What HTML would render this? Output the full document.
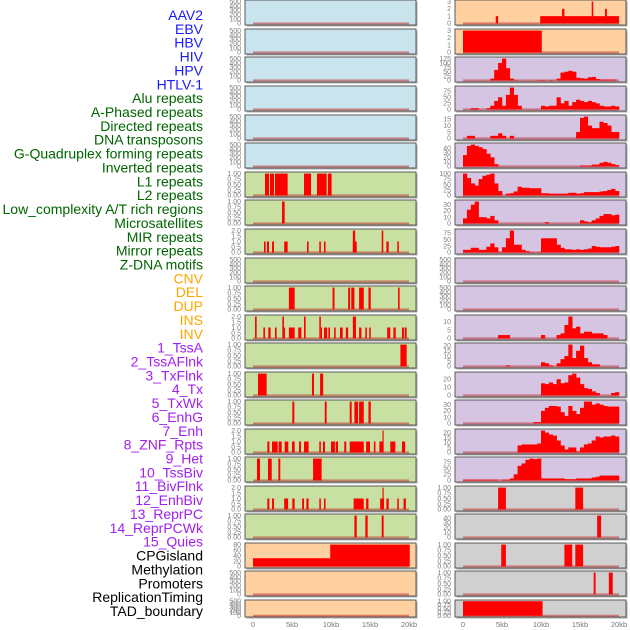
<!DOCTYPE html>
<html><head><meta charset="utf-8"><style>
html,body{margin:0;padding:0;background:#fff;width:630px;height:630px;overflow:hidden}
svg{display:block;font-family:"Liberation Sans",sans-serif}
</style></head><body>
<svg id="chart" width="630" height="630" viewBox="0 0 630 630" xmlns="http://www.w3.org/2000/svg"></svg>
<script>
// ---------- data ----------
const trackLabels = ["AAV2","EBV","HBV","HIV","HPV","HTLV-1","Alu repeats","A-Phased repeats","Directed repeats","DNA transposons","G-Quadruplex forming repeats","Inverted repeats","L1 repeats","L2 repeats","Low_complexity A/T rich regions","Microsatellites","MIR repeats","Mirror repeats","Z-DNA motifs","CNV","DEL","DUP","INS","INV","1_TssA","2_TssAFlnk","3_TxFlnk","4_Tx","5_TxWk","6_EnhG","7_Enh","8_ZNF_Rpts","9_Het","10_TssBiv","11_BivFlnk","12_EnhBiv","13_ReprPC","14_ReprPCWk","15_Quies","CPGisland","Methylation","Promoters","ReplicationTiming","TAD_boundary"];
const labelGroups = ["virus","virus","virus","virus","virus","virus","repeat","repeat","repeat","repeat","repeat","repeat","repeat","repeat","repeat","repeat","repeat","repeat","repeat","sv","sv","sv","sv","sv","chrom","chrom","chrom","chrom","chrom","chrom","chrom","chrom","chrom","chrom","chrom","chrom","chrom","chrom","chrom","other","other","other","other","other"];
const xTickValues = [0,5,10,15,20];
const xTickLabels = ["0","5kb","10kb","15kb","20kb"];

// left panel intervals [startKb, endKb, value]
const leftR7 = [[1.54,2.05,1],[2.18,2.69,1],[2.82,4.44,1],[6.54,7.44,1],[8.2,9.44,1],[9.6,10.08,1]];
const leftR8 = [[3.72,4.06,1]];
const leftR9 = [[1.41,1.62,1],[1.79,2.05,1],[2.44,2.69,1],[4.0,4.44,1],[6.92,7.13,1],[8.5,8.7,1],[9.1,9.3,1],[12.8,13.3,1],[12.8,13.1,2],[16.5,16.7,2],[17.1,17.4,1],[18.5,18.7,1]];
const leftR11 = [[4.6,5.34,1],[10.2,10.45,1],[12.2,12.45,1],[12.6,13.0,1],[13.6,14.2,1],[14.8,15.1,1],[18.6,18.8,1]];
const leftR12 = [[0.26,0.47,2],[1.33,1.54,1],[1.96,2.26,1],[2.82,3.03,1],[3.76,3.97,2],[3.97,4.1,1],[4.6,5.34,1],[5.8,6.2,1],[6.54,6.75,2],[8.5,8.7,2],[8.7,8.85,1],[9.1,9.5,1],[9.66,9.87,1],[10.4,10.6,1],[11.15,11.5,1],[11.9,12.2,1],[12.8,13.2,2],[13.6,13.9,1],[14.4,14.6,1],[14.9,15.1,1],[17.2,17.6,1],[18.0,18.3,1],[19.1,19.35,1],[19.45,19.7,1]];
const leftR13 = [[18.9,19.7,1]];
const leftR14 = [[0.64,1.75,1],[7.56,7.82,1],[8.6,9.0,1]];
const leftR15 = [[5.04,5.3,1],[9.2,9.44,1],[12.4,12.65,1],[13.0,13.46,1],[13.6,14.2,1],[14.8,15.1,1]];
const leftR16 = [[1.84,2.1,1],[2.44,3.16,1],[3.29,3.68,1],[4.06,4.53,1],[5.0,5.34,1],[5.9,6.15,1],[6.54,7.13,1],[8.5,8.7,1],[8.97,9.23,1],[10.0,10.5,1],[10.6,10.9,1],[11.7,11.96,1],[12.4,14.2,1],[14.5,15.0,1],[15.5,15.7,1],[16.2,16.7,1],[16.6,16.75,2],[17.6,18.25,1],[19.1,19.5,1]];
const leftR17 = [[0.51,0.9,1],[1.92,2.4,1],[3.25,3.5,1],[7.7,8.8,1]];
const leftR18 = [[1.84,2.1,1],[2.44,2.7,1],[4.0,4.5,1],[5.04,5.34,1],[6.3,6.54,1],[6.84,7.13,1],[8.5,8.7,1],[9.1,9.3,1],[12.9,14.2,1],[14.5,14.8,1],[16.3,16.8,1],[16.6,16.75,2],[17.1,17.4,1],[18.5,18.7,1],[19.3,19.6,1]];
const leftR19 = [[13.0,13.3,1],[14.4,14.7,1],[16.5,16.75,1]];
const leftR20 = [[0,10,30],[9.9,20.1,80]];

// right panel intervals
const rightR1 = [[4.2,4.5,1],[9.9,20,1],[12.7,13.0,2],[16.5,16.7,3],[18.2,18.45,2]];
const rightR2 = [[0,10.1,3]];
const rightR18 = [[4.5,5.5,1],[14.4,15.4,1]];
const rightR19 = [[17.2,17.7,45]];
const rightR20 = [[4.9,5.5,1],[13.0,14.0,1],[14.4,15.4,1]];
const rightR21 = [[16.75,17.0,1],[18.7,19.2,1]];
const rightR22 = [[0,10.2,1]];

// right panel histogram values, 0.5kb bins from 0 to 20kb
const binsR3 = [0,0,0,0,0,0,0,10,60,100,125,70,10,2,0,0,0,0,0,2,2,0,2,0,10,45,50,55,50,15,12,10,18,20,8,5,5,5,5,0];
const binsR4 = [0,0,5,5,0,0,5,15,35,50,15,60,90,60,15,0,0,0,0,0,15,12,15,15,50,25,35,15,30,40,35,30,35,30,25,15,12,12,15,12];
const binsR5 = [0,2,2,0,0,0,0,2,2,4,2,0,2,0,0,0,0,0,0,0,0,0,0,0,0,0,0,0,0,5,16,17,10,8,8,13,12,10,5,5];
const binsR6 = [25,45,48,45,42,38,28,20,5,0,0,0,0,0,0,0,0,0,0,0,0,0,0,0,0,0,0,0,0,0,2,2,2,4,4,8,10,8,5,3];
const binsR7 = [100,80,55,45,75,90,95,100,55,20,0,8,10,18,40,35,35,33,33,33,10,10,8,8,8,8,8,12,12,8,10,15,15,15,15,18,20,25,30,20];
const binsR8 = [8,22,30,35,10,10,8,12,5,0,0,0,0,0,0,0,0,0,0,0,0,2,0,0,0,0,0,0,0,0,5,3,2,5,8,12,15,15,13,14];
const binsR9 = [10,10,18,18,10,10,22,35,20,2,20,55,85,30,30,10,5,2,0,2,55,55,55,55,30,18,12,12,10,12,10,12,15,25,22,20,20,20,22,25];
const binsR12 = [0,0,0,0,0,0,0,0,0,2,2,2,0,0,0,0,0,0,0,0,2,0,0,0,2,3,8,13,6,7,3,4,4,3,3,3,2,0,0,0];
const binsR13 = [0,0,0,0,0,0,0,0,0,0,0,1,0,0,0,0,0,0,0,0,4,3,1,0,3,7,10,21,8,15,20,8,4,2,2,0,0,0,0,0];
const binsR14 = [0,0,0,0,0,0,0,0,0,0,0,0,0,0,0,0,0,0,0,0,15,14,16,14,20,15,16,25,27,22,14,9,8,5,3,0,0,0,3,4];
const binsR15 = [0,0,0,0,0,0,0,0,0,0,0,0,0,0,0,0,0,0,2,2,20,25,28,28,27,18,12,28,20,15,25,35,35,30,32,30,28,27,27,27];
const binsR16 = [0,0,0,0,0,0,0,0,0,0,0,0,0,0,7,8,8,8,8,9,22,20,18,17,12,7,3,5,5,1,5,8,9,12,16,15,16,16,17,16];
const binsR17 = [3,3,3,3,3,3,3,3,3,0,3,3,8,25,60,70,85,90,88,90,8,8,8,8,8,8,5,5,5,8,8,8,8,12,15,20,20,20,20,20];

// y tick label sets
const ticksEmpty = ["0","100","200","300","400","500"];
const ticksUnit = ["0.00","0.25","0.50","0.75","1.00"];
const ticksTwo = ["0.0","0.5","1.0","1.5","2.0"];

// ---------- layout ----------
const rowTops = [0,29,57,86,115,143,172,200,229,258,286,315,343,372,400,429,457,486,514,543,571,600];
const COLORS = {blue:"#c9e4ec",green:"#c8e1a3",peach:"#ffd0a0",lav:"#d5c5e2",gray:"#d0d0d0"};
const labelColors = {virus:"#1a1aff",repeat:"#006400",sv:"#ffa500",chrom:"#a020f0",other:"#000"};

function track(kind, data, ymax, ticks, bg){return {kind, data, ymax, ticks, bg};}
function nums(list){return list.map(Number);}
const E = track("iv", [], 500, ticksEmpty, "");
const leftTracks = [
 Object.assign({},E,{bg:"blue"}),Object.assign({},E,{bg:"blue"}),Object.assign({},E,{bg:"blue"}),
 Object.assign({},E,{bg:"blue"}),Object.assign({},E,{bg:"blue"}),Object.assign({},E,{bg:"blue"}),
 track("iv",leftR7,1,ticksUnit,"green"), track("iv",leftR8,1,ticksUnit,"green"),
 track("iv",leftR9,2,ticksTwo,"green"), Object.assign({},E,{bg:"green"}),
 track("iv",leftR11,1,ticksUnit,"green"), track("iv",leftR12,2,ticksTwo,"green"),
 track("iv",leftR13,1,ticksUnit,"green"), track("iv",leftR14,1,ticksUnit,"green"),
 track("iv",leftR15,1,ticksUnit,"green"), track("iv",leftR16,2,ticksTwo,"green"),
 track("iv",leftR17,1,ticksUnit,"green"), track("iv",leftR18,2,ticksTwo,"green"),
 track("iv",leftR19,1,ticksUnit,"green"), track("iv",leftR20,80,["0","20","40","60","80"],"peach"),
 Object.assign({},E,{bg:"peach"}), Object.assign({},E,{bg:"peach"})
];
const rightTracks = [
 track("iv",rightR1,3,["0","1","2","3"],"peach"), track("iv",rightR2,3,["0","1","2","3"],"peach"),
 track("bin",binsR3,125,["0","25","50","75","100","125"],"lav"), track("bin",binsR4,90,["0","25","50","75"],"lav"),
 track("bin",binsR5,17,["0","5","10","15"],"lav"), track("bin",binsR6,48,["0","10","20","30","40"],"lav"),
 track("bin",binsR7,100,["0","25","50","75","100"],"lav"), track("bin",binsR8,35,["0","10","20","30"],"lav"),
 track("bin",binsR9,85,["0","25","50","75"],"lav"), Object.assign({},E,{bg:"lav"}), Object.assign({},E,{bg:"lav"}),
 track("bin",binsR12,13,["0","5","10"],"lav"), track("bin",binsR13,21,["0","5","10","15","20"],"lav"),
 track("bin",binsR14,27,["0","10","20"],"lav"), track("bin",binsR15,35,["0","10","20","30"],"lav"),
 track("bin",binsR16,22,["0","5","10","15","20"],"lav"), track("bin",binsR17,90,["0","25","50","75"],"lav"),
 track("iv",rightR18,1,ticksUnit,"gray"), track("iv",rightR19,45,["0","10","20","30","40"],"gray"),
 track("iv",rightR20,1,ticksUnit,"gray"), track("iv",rightR21,1,ticksUnit,"gray"), track("iv",rightR22,1,ticksUnit,"gray")
];

const svg = document.getElementById("chart");
const NS = "http://www.w3.org/2000/svg";
function mk(tag, attrs, parent){const e=document.createElementNS(NS,tag);for(const k in attrs)e.setAttribute(k,attrs[k]);(parent||svg).appendChild(e);return e;}

// labels
const labelsG = mk("g",{});


trackLabels.forEach((t,i)=>{
  const el = mk("text",{x:203,y:15+i*13.86+5,"text-anchor":"end","font-size":"14",fill:labelColors[labelGroups[i]]},labelsG);
  el.textContent=t;
  
  
});

function drawPanel(tr, px, top, h, side, idx){
  const g = mk("g",{});
  
  
  const W=171;
  mk("rect",{x:px+1.5,y:top+1.5,width:W,height:h,fill:"#aaa"},g);
  mk("rect",{x:px,y:top,width:W,height:h,fill:COLORS[tr.bg],stroke:"#5a5a5a","stroke-width":1},g);
  const x0 = side==="left"?253:463, sx=7.8;
  const xs = kb=>x0+kb*sx;
  const M = tr.ymax;
  const lo=-0.05*M, hi=1.05*M;
  const ys = v=> top+h-0.5 - (v-lo)/(hi-lo)*(h-1);
  mk("rect",{x:xs(0),y:ys(0)-1,width:xs(20)-xs(0),height:2,fill:"rgba(190,50,50,0.55)"},g);
  if(tr.kind==="iv"){
    tr.data.forEach((d,j)=>{
      const r = mk("rect",{x:xs(d[0]),y:ys(d[2]),width:Math.max(0.8,xs(d[1])-xs(d[0])),height:ys(0)-ys(d[2]),fill:"#ff0000"},g);
      
      
    });
  } else {
    tr.data.forEach((v,j)=>{
      if(v<=0) return;
      const r = mk("rect",{x:xs(j*0.5),y:ys(v),width:xs((j+1)*0.5)-xs(j*0.5)+0.3,height:ys(0)-ys(v),fill:"#ff0000"},g);
      
      
    });
  }
  const tv = nums(tr.ticks);
  tv.forEach((v,j)=>{
    const t = mk("text",{x:px-4,y:ys(v)+2.3,"text-anchor":"end","font-size":"7",fill:"#808080"},g);
    t.textContent = tr.ticks[j];
    
    
  });
}
leftTracks.forEach((tr,i)=>drawPanel(tr,245,rowTops[i],i===21?17:25,"left",i));
rightTracks.forEach((tr,i)=>drawPanel(tr,455,rowTops[i],i===21?17:25,"right",i));

[253,463].forEach((x0,k)=>{
  const g = mk("g",{});
  
  
  xTickValues.forEach((v,j)=>{
    const t = mk("text",{x:x0+v*7.8,y:627,"text-anchor":"middle","font-size":"7.5",fill:"#777"},g);
    t.textContent = xTickLabels[j];
    
    
  });
});
</script>
</body></html>
